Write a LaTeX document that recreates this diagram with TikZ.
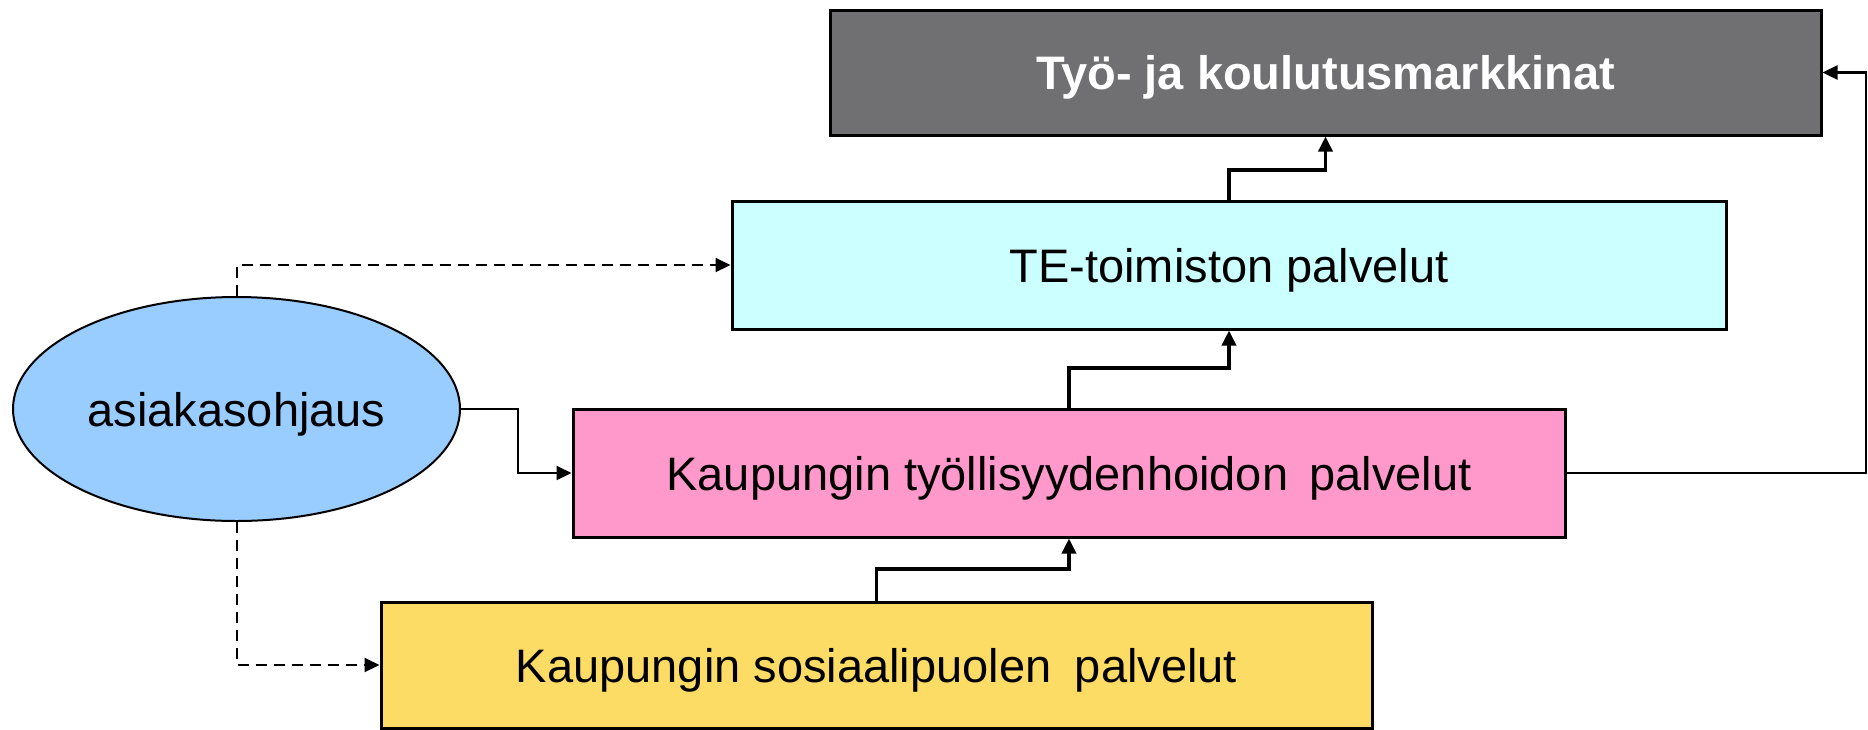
\documentclass[tikz,border=0pt]{standalone}
\usepackage{fontspec}
\setmainfont{Liberation Sans}
\usetikzlibrary{arrows.meta,shapes.geometric}
\definecolor{boxgray}{HTML}{707072}
\definecolor{tecyan}{HTML}{CCFFFF}
\definecolor{pinkbox}{HTML}{FF99CC}
\definecolor{yellowbox}{HTML}{FCDC64}
\definecolor{ellblue}{HTML}{99CCFF}
\tikzset{
  box/.style={draw=black, line width=3pt, rectangle, inner sep=0pt,
    text height=34pt, text depth=0pt,
    font=\fontsize{47}{56}\selectfont},
  tip/.style={-{Triangle[length=15pt,width=14pt]}},
  thk/.style={line width=3.5pt, tip},
  thn/.style={line width=2pt, tip},
  dsh/.style={line width=2pt, tip, dash pattern=on 11pt off 7pt},
}
\begin{document}
\begin{tikzpicture}[x=1pt,y=-1pt]
\useasboundingbox (0,0) rectangle (1868,729);
\node[box, fill=boxgray, text=white, minimum width=991pt, minimum height=125pt,
  font=\fontsize{47}{56}\selectfont\bfseries] (gray) at (1325.5,72.5) {Työ- ja koulutusmarkkinat};
\node[box, fill=tecyan, minimum width=994pt, minimum height=128pt] (te) at (1229,265) {TE-toimiston palvelut};
\node[box, fill=pinkbox, minimum width=992pt, minimum height=128pt] (pink) at (1069,473) {Kaupungin työllisyydenhoidon\hspace{0.45em}palvelut};
\node[box, fill=yellowbox, minimum width=991pt, minimum height=126pt] (yellow) at (876.5,665) {Kaupungin sosiaalipuolen\hspace{0.5em}palvelut};
\node[ellipse, draw=black, line width=2pt, fill=ellblue, minimum width=447pt, minimum height=224pt,
  inner sep=0pt, text height=34pt, text depth=0pt, font=\fontsize{47}{56}\selectfont] (ell) at (236.5,409) {asiakasohjaus};
\coordinate (rt) at (1866,0);
% thick arrows between boxes
\draw[thk] (yellow.north) -- (yellow.north |- 0,569) -| (pink.south);
\draw[thk] (pink.north) -- (pink.north |- 0,368) -| (te.south);
\draw[thk] (te.north) -- (te.north |- 0,170) -| (gray.south);
% return arrow on right
\draw[line width=2.5pt, tip] (pink.east) -- (pink.east -| rt) |- (gray.east);
% ellipse connectors
\draw[thn] (ell.east) -- ++(57,0) |- (pink.west);
\draw[dsh] (ell.north) |- (te.west);
\draw[dsh] (ell.south) |- (yellow.west);
\end{tikzpicture}
\end{document}
